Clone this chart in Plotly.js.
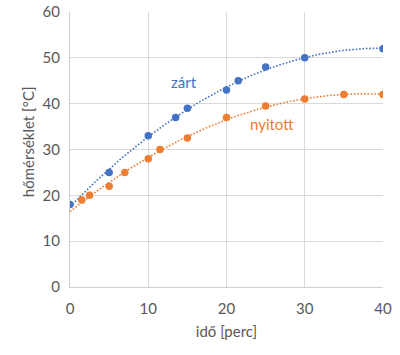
<!DOCTYPE html>
<html>
<head>
<meta charset="utf-8">
<script src="https://cdn.plot.ly/plotly-3.0.1.min.js"></script>
<style>html,body{margin:0;padding:0;background:#fff;}#chart{width:400px;height:355px;}</style>
</head>
<body>
<div id="chart"></div>
<script>
const zartX = [0, 5, 10, 13.5, 15, 20, 21.5, 25, 30, 40];
const zartY = [18, 25, 33, 37, 39, 43, 45, 48, 50, 52];
const nyitottX = [1.5, 2.5, 5, 7, 10, 11.5, 15, 20, 25, 30, 35, 40];
const nyitottY = [19, 20, 22, 25, 28, 30, 32.5, 37, 39.5, 41, 42, 42];
const seriesNames = ["zárt", "nyitott"];
const xTitle = "idő [perc]";
const yTitle = "hőmérséklet [°C]";

function polyFit2(xs, ys) {
  let n = xs.length, s = [0,0,0,0,0], t = [0,0,0];
  for (let i = 0; i < n; i++) {
    let x = xs[i], y = ys[i], p = 1;
    for (let k = 0; k < 5; k++) { s[k] += p; if (k < 3) t[k] += p * y; p *= x; }
  }
  const A = [[s[0], s[1], s[2], t[0]], [s[1], s[2], s[3], t[1]], [s[2], s[3], s[4], t[2]]];
  for (let i = 0; i < 3; i++) {
    for (let j = i + 1; j < 3; j++) {
      const f = A[j][i] / A[i][i];
      for (let k = i; k < 4; k++) A[j][k] -= f * A[i][k];
    }
  }
  const c = [0,0,0];
  for (let i = 2; i >= 0; i--) {
    let v = A[i][3];
    for (let k = i + 1; k < 3; k++) v -= A[i][k] * c[k];
    c[i] = v / A[i][i];
  }
  return c;
}
function trend(xs, ys) {
  const c = polyFit2(xs, ys);
  const tx = [], ty = [];
  for (let i = 0; i <= 200; i++) { const x = 40 * i / 200; tx.push(x); ty.push(c[0] + c[1]*x + c[2]*x*x); }
  return {tx, ty};
}
const blue = "#4472C4", orange = "#ED7D31";
const tz = trend(zartX, zartY), tn = trend(nyitottX, nyitottY);
const font = "Lato, 'Open Sans', sans-serif";
const data = [
  {x: tz.tx, y: tz.ty, mode: "lines", line: {color: blue, width: 1.6, dash: "1.6px,1.8px"}, hoverinfo: "skip"},
  {x: tn.tx, y: tn.ty, mode: "lines", line: {color: orange, width: 1.6, dash: "1.6px,1.8px"}, hoverinfo: "skip"},
  {x: zartX, y: zartY, mode: "markers", name: seriesNames[0], marker: {color: blue, size: 7.5}},
  {x: nyitottX, y: nyitottY, mode: "markers", name: seriesNames[1], marker: {color: orange, size: 7.5}}
];
const layout = {
  width: 400, height: 355,
  margin: {l: 70, r: 16.5, t: 12.3, b: 68.3},
  showlegend: false,
  paper_bgcolor: "#fff", plot_bgcolor: "#fff",
  font: {family: font, color: "#595959", size: 15},
  xaxis: {range: [0, 40], dtick: 10, showgrid: true, gridcolor: "#d9d9d9", gridwidth: 1,
    zeroline: false, showline: true, linecolor: "#d0d0d0", linewidth: 1, mirror: false,
    ticks: "", ticklen: 0, ticklabelstandoff: 8, tickfont: {size: 15, color: "#595959"},
    title: {text: xTitle, font: {size: 15, color: "#595959"}, standoff: 10}},
  yaxis: {range: [0, 60], dtick: 10, showgrid: true, gridcolor: "#d9d9d9", gridwidth: 1,
    zeroline: false, showline: true, linecolor: "#d0d0d0", linewidth: 1,
    ticks: "", ticklabelstandoff: 6, tickfont: {size: 15, color: "#595959"}},
  annotations: [
    {x: -0.134, y: 0.527, xref: "paper", yref: "paper", text: yTitle, textangle: -90, showarrow: false,
      xanchor: "center", yanchor: "middle", font: {color: "#595959", size: 15, family: font}},
    {x: 14.6, y: 44.7, xref: "x", yref: "y", text: seriesNames[0], showarrow: false, font: {color: blue, size: 15, family: font}},
    {x: 25.8, y: 35.5, xref: "x", yref: "y", text: seriesNames[1], showarrow: false, font: {color: orange, size: 15, family: font}}
  ]
};
Plotly.newPlot("chart", data, layout, {staticPlot: true, displayModeBar: false});
</script>
</body>
</html>
